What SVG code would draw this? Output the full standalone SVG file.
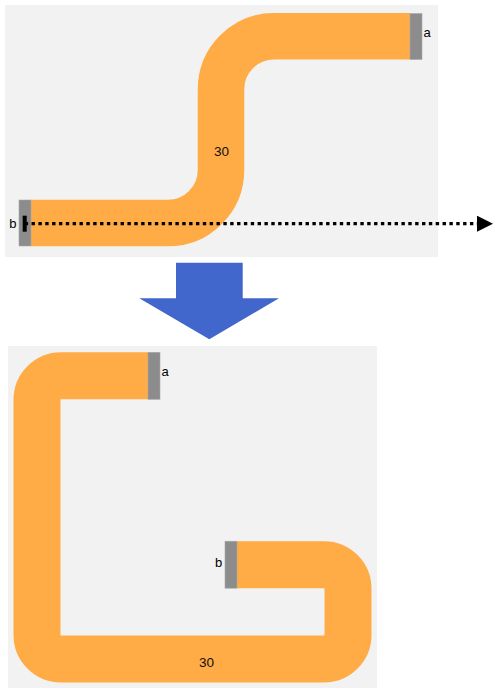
<svg xmlns="http://www.w3.org/2000/svg" width="497" height="694" viewBox="0 0 497 694">
<defs>
<style>
.panel{fill:#f2f2f2}
.link{fill:none;stroke:#ffab46}
.node{fill:#8c8c8c;stroke:#a8a8a8;stroke-width:0.6}
.lbl{font-family:"Liberation Sans",Arial,sans-serif;font-size:13px;fill:#000}
.val{font-family:"Liberation Sans",Arial,sans-serif;font-size:13.5px;fill:#111}
</style>
<marker id="tri" markerWidth="16" markerHeight="16" viewBox="0 0 16 16" refX="0" refY="8" orient="auto" markerUnits="userSpaceOnUse">
<path d="M0,0 L16,8 L0,16 Z" fill="#000"/>
</marker>
</defs>
<rect class="panel" x="5" y="5" width="433" height="252"/>
<rect class="panel" x="8" y="346" width="369" height="342"/>
<g id="connectors">
<path id="link-top" class="link" stroke-width="46.5" d="M31,223 H168 A53,53 0 0 0 221,170 V89 A53,53 0 0 1 274,36.3 H410"/>
<path id="link-bottom" class="link" stroke-width="47" d="M148,375.8 H61 A24,24 0 0 0 37,399.8 V635 A24,24 0 0 0 61,659 H324 A24,24 0 0 0 348,635 V588.7 A24,24 0 0 0 324,564.7 H237"/>
<text class="val" x="221.5" y="155.5" text-anchor="middle">30</text>
<text class="val" x="206.5" y="667" text-anchor="middle">30</text>
</g>
<g id="node-a-top">
<rect class="node" x="410" y="13.5" width="12" height="46"/>
<text class="lbl" x="423.5" y="36.8">a</text>
</g>
<g id="node-b-top">
<rect class="node" x="19" y="200" width="12" height="46"/>
<text class="lbl" x="16.5" y="228.3" text-anchor="end">b</text>
</g>
<g id="node-a-bottom">
<rect class="node" x="148" y="352.3" width="12" height="47"/>
<text class="lbl" x="161.5" y="375.7">a</text>
</g>
<g id="node-b-bottom">
<rect class="node" x="225" y="541.2" width="12" height="47"/>
<text class="lbl" x="222.3" y="567.3" text-anchor="end">b</text>
</g>
<g id="cut-line">
<rect x="22.7" y="215.7" width="4" height="16" fill="#000"/>
<line x1="24.7" y1="223.7" x2="477" y2="223.7" stroke="#000" stroke-width="3.3" stroke-dasharray="3.4 3.45" marker-end="url(#tri)"/>
</g>
<g id="transform-arrow">
<path d="M176,262.7 H242.7 V298.3 H279 L209.3,339.3 L139.3,298.3 H176 Z" fill="#4166cc"/>
</g>
</svg>
